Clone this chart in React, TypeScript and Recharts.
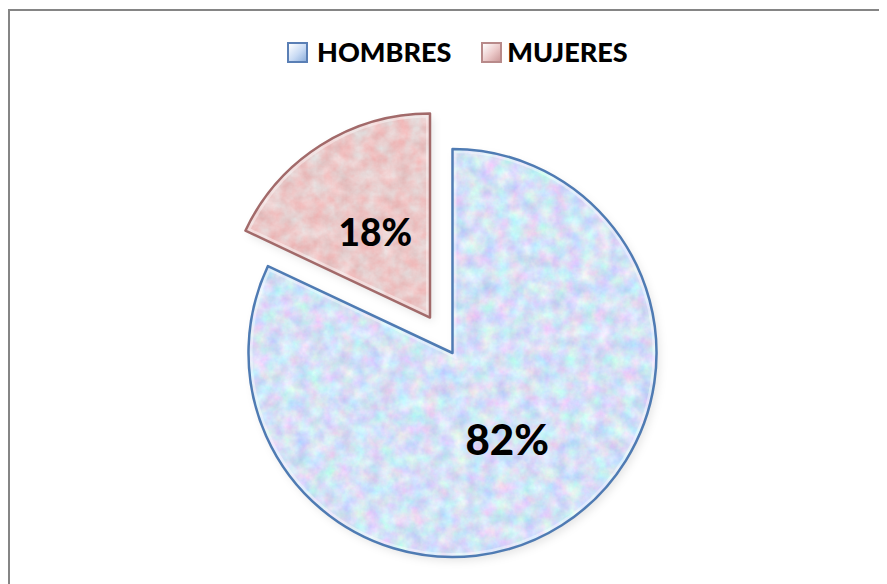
import React from 'react';
import { PieChart, Pie, Sector, Legend } from 'recharts';

const categories = ['HOMBRES', 'MUJERES'];
const values = [82, 18];
const labels = ['82%', '18%'];
const exploded = [false, true];

const strokes = ['#4f7bb3', '#a26a6a'];
const filters = ['fBlue', 'fPink'];
const iconBorder = ['#5a7fb5', '#b88a8a'];

const data = categories.map((name, i) => ({
  name,
  value: values[i],
  label: labels[i],
  explode: exploded[i],
  idx: i,
}));

const RAD = Math.PI / 180;
const EXPLODE = 42;
const LEGEND_H = 60;

const shiftOf = (p: any) => {
  if (!p.payload || !p.payload.explode) return { dx: 0, dy: 0 };
  return {
    dx: Math.cos(-p.midAngle * RAD) * EXPLODE,
    dy: Math.sin(-p.midAngle * RAD) * EXPLODE,
  };
};

const SliceShape = (props: any) => {
  const { dx, dy } = shiftOf(props);
  const i = props.payload.idx;
  const common = {
    cx: props.cx + dx,
    cy: props.cy + dy,
    innerRadius: 0,
    outerRadius: props.outerRadius,
    startAngle: props.startAngle,
    endAngle: props.endAngle,
  };
  return (
    <g>
      <Sector {...common} fill="#000" fillOpacity={0.1} stroke="none" style={{ filter: 'url(#fShadow)' }} />
      <Sector {...common} fill="#fff" stroke="none" style={{ filter: `url(#${filters[i]})` }} />
      <clipPath id={`clip${i}`}>
        <Sector {...common} />
      </clipPath>
      <Sector {...common} fill="none" stroke="#ffffff" strokeOpacity={0.4} strokeWidth={8} style={{ clipPath: `url(#clip${i})` }} />
      <Sector {...common} fill="none" stroke={strokes[i]} strokeWidth={2.5} strokeLinejoin="round" />
    </g>
  );
};

const renderLabel = (props: any) => {
  const { dx, dy } = shiftOf(props);
  const r = props.outerRadius * 0.5;
  const x = props.cx + dx + Math.cos(-props.midAngle * RAD) * r;
  const y = props.cy + dy + Math.sin(-props.midAngle * RAD) * r;
  const size = props.payload.explode ? 37 : 42;
  return (
    <text
      x={x}
      y={y}
      textAnchor="middle"
      dominantBaseline="central"
      fontFamily="Lato, 'Open Sans', sans-serif"
      fontWeight={900}
      fontSize={size}
      fill="#000"
    >
      {props.payload.label}
    </text>
  );
};

const LegendContent = () => (
  <div style={{ position: 'relative', height: LEGEND_H }}>
    <div
      style={{
        position: 'absolute',
        left: 277,
        top: 26,
        display: 'flex',
        alignItems: 'center',
        fontFamily: "Lato, 'Open Sans', sans-serif",
        fontWeight: 900,
        fontSize: 27,
        color: '#000',
        lineHeight: '30px',
      }}
    >
      {categories.map((c, i) => (
        <div key={c} style={{ display: 'flex', alignItems: 'center', marginRight: i === 0 ? 30 : 0 }}>
          <div
            style={{
              width: 21,
              height: 21,
              boxSizing: 'border-box',
              border: `2px solid ${iconBorder[i]}`,
              background:
                i === 0
                  ? 'linear-gradient(135deg, #ffffff 0%, #c9dbf4 55%, #8fb0dc 100%)'
                  : 'linear-gradient(135deg, #ffffff 0%, #eccaca 55%, #cc9a9a 100%)',
              marginRight: i === 0 ? 9 : 5,
            }}
          />
          <span>{c}</span>
        </div>
      ))}
    </div>
  </div>
);

export default function App() {
  return (
    <div
      style={{
        width: 879,
        height: 575,
        marginTop: 1,
        boxSizing: 'border-box',
        borderTop: '2px solid #858585',
        borderLeft: '2px solid #858585',
        background: '#fff',
      }}
    >
      <PieChart width={877} height={573} margin={{ top: 0, right: 0, bottom: 0, left: 0 }}>
        <defs>
          <filter id="fBlue" x="0" y="0" width="100%" height="100%" colorInterpolationFilters="sRGB">
            <feTurbulence type="fractalNoise" baseFrequency="0.07" numOctaves="4" seed="7" result="n" />
            <feColorMatrix
              in="n"
              type="matrix"
              values="0.35 0 0 0 0.66  0 0.3 0 0 0.735  0 0 0.15 0 0.89  0 0 0 0 1"
              result="c"
            />
            <feComposite in="c" in2="SourceGraphic" operator="in" />
          </filter>
          <filter id="fPink" x="0" y="0" width="100%" height="100%" colorInterpolationFilters="sRGB">
            <feTurbulence type="fractalNoise" baseFrequency="0.07" numOctaves="4" seed="3" result="n" />
            <feColorMatrix
              in="n"
              type="matrix"
              values="0.12 0 0 0 0.86  0 0.25 0 0 0.665  0 0.25 0 0 0.665  0 0 0 0 1"
              result="c"
            />
            <feComposite in="c" in2="SourceGraphic" operator="in" />
          </filter>
          <filter id="fShadow" x="-10%" y="-10%" width="130%" height="130%">
            <feOffset dx="3" dy="4" />
            <feGaussianBlur stdDeviation="4" />
          </filter>
        </defs>
        <Legend verticalAlign="top" align="left" wrapperStyle={{ top: 0, left: 0, width: 877 }} content={LegendContent} />
        <Pie
          data={data}
          dataKey="value"
          nameKey="name"
          cx={442.5}
          cy={342 - LEGEND_H}
          outerRadius={204}
          startAngle={90}
          endAngle={-270}
          isAnimationActive={false}
          shape={SliceShape}
          label={renderLabel}
          labelLine={false}
        />
      </PieChart>
    </div>
  );
}
